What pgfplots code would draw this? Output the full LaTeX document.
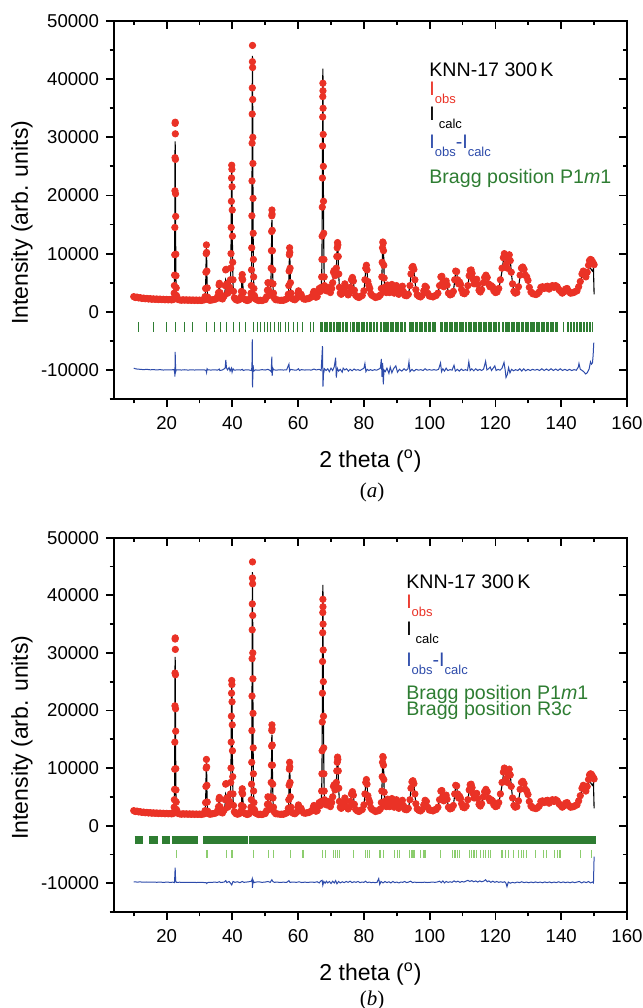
\documentclass[border=0pt]{standalone}
\usepackage{pgfplots}
\pgfplotsset{compat=1.18}
\usepackage{pgfplotstable}
\usepackage{fontspec}
\setmainfont{Liberation Sans}
\newfontfamily\seriffont{Liberation Serif}
\definecolor{obsred}{RGB}{234,50,38}
\definecolor{diffblue}{RGB}{45,75,170}
\definecolor{bgreen}{RGB}{46,125,50}
\definecolor{lgreen}{RGB}{140,205,110}
\newcommand{\sub}[1]{\raisebox{-4pt}{\fontsize{6.5pt}{7pt}\selectfont #1}}
\tikzset{leg/.style={anchor=base west, inner sep=0pt, font=\fontsize{9.8pt}{11pt}\selectfont}}

\pgfplotstableread{
x obs calc
10.0 2600 2450
10.5 2450 2400
11.0 2520 2380
11.5 2380 2350
12.0 2420 2320
12.5 2290 2300
13.0 2350 2280
13.5 2240 2260
14.0 2300 2240
14.5 2190 2220
15.0 2260 2200
15.5 2150 2190
16.0 2220 2180
16.5 2130 2170
17.0 2200 2160
17.5 2100 2150
18.0 2180 2140
18.5 2090 2130
19.0 2150 2120
19.5 2060 2110
20.0 2130 2100
20.5 2050 2090
21.0 2110 2080
21.5 2040 2070
22.0 2100 2080
22.20 2300 2200
22.30 3200 3000
22.36 4500 4400
22.42 6300 6800
22.46 9800 10500
22.50 14500 16000
22.53 20800 22500
22.56 26500 27500
22.59 32400 29300
22.62 32600 28500
22.65 30600 26000
22.68 26200 22000
22.72 20300 16500
22.76 16400 11500
22.80 9900 7500
22.85 6200 4800
22.92 4100 3300
23.00 2800 2600
23.10 2300 2250
23.5 2100 2080
24.0 2040 2060
24.5 1980 2050
25.0 2060 2040
25.5 1990 2030
26.0 2050 2020
26.5 1970 2010
27.0 2040 2000
27.5 1960 1990
28.0 2030 1980
28.5 1950 1980
29.0 2020 1970
29.5 1950 1970
30.0 2010 1960
30.5 1940 1960
31.0 2000 1960
31.5 2050 2000
31.7 2600 2500
31.85 4000 3900
31.95 6800 6500
32.03 10000 9800
32.10 11500 11000
32.17 10200 9700
32.25 7000 6400
32.35 4100 3800
32.5 2500 2400
32.8 2050 2050
33.2 1980 2000
33.6 2040 2000
34.0 2050 2050
34.5 2120 2100
35.0 2200 2200
35.5 2600 2600
35.8 3300 3300
35.95 4600 4800
36.05 4900 4800
36.2 3300 3400
36.5 2300 2300
37.0 2200 2200
37.5 2700 2600
37.8 4500 3800
37.95 7200 5500
38.1 7300 5300
38.3 4800 3600
38.6 3200 2900
38.9 3600 3300
39.2 4200 4000
39.4 5500 5300
39.5 7500 7300
39.58 10000 10500
39.64 14500 15000
39.70 19000 20000
39.75 23000 23500
39.80 25200 25000
39.85 24500 24000
39.90 21500 20500
39.96 17500 16000
40.02 13000 11500
40.10 8500 7500
40.20 5500 4800
40.35 3500 3200
40.6 2400 2400
41.0 2100 2100
41.5 1980 2000
42.0 2050 2050
42.5 2500 2500
42.75 3500 3400
42.9 5800 6000
43.0 6400 6300
43.12 5500 5600
43.3 3300 3200
43.6 2200 2200
44.0 2040 2000
44.5 1930 1950
45.0 2020 2000
45.4 2300 2300
45.65 3200 3000
45.75 4500 4200
45.82 7200 6800
45.88 11000 10500
45.93 16500 15500
45.97 22500 22000
46.00 29000 28500
46.03 34000 34500
46.06 38500 40000
46.09 43000 44000
46.12 45800 43500
46.15 42000 40000
46.18 36500 35000
46.21 30000 29000
46.24 25500 23500
46.28 19500 17500
46.33 13500 12500
46.39 9000 8000
46.46 6000 5500
46.55 4000 3800
46.7 2800 2700
47.0 2200 2200
47.5 2040 2000
48.0 1920 1950
48.5 1990 1950
49.0 1920 1950
49.5 2030 2000
50.0 2100 2100
50.4 2600 2600
50.65 3700 3800
50.8 5000 5000
50.95 3800 3700
51.2 2800 2700
51.5 3300 3200
51.7 5000 4800
51.8 7500 7200
51.88 10500 10000
51.94 13800 13500
51.99 16500 15500
52.03 17500 15800
52.07 16800 15000
52.12 14000 12500
52.18 10500 9500
52.26 7200 6500
52.36 4800 4300
52.5 3200 3000
52.8 2300 2300
53.2 2060 2100
53.8 2030 2000
54.5 1960 2000
55.0 1990 1950
55.5 1960 2000
56.0 2090 2050
56.5 2200 2200
57.0 3000 2900
57.15 4500 4300
57.25 7000 6800
57.33 9800 9500
57.40 11000 10700
57.47 10200 10000
57.55 7500 7300
57.65 5000 4800
57.8 3200 3100
58.1 2300 2300
58.5 2140 2100
59.0 2060 2100
59.5 2300 2300
59.9 3200 3100
60.1 3600 3600
60.35 3000 3000
60.6 2600 2600
60.9 3000 2900
61.2 2500 2500
61.7 2200 2200
62.2 2150 2150
62.7 2240 2200
63.2 2260 2300
63.7 2440 2400
64.2 2600 2600
64.6 3200 3100
64.8 3500 3400
65.0 3000 3000
65.4 2500 2500
65.8 2600 2600
66.2 3500 3400
66.4 4000 3900
66.6 3600 3500
66.8 3500 3500
67.0 4200 4000
67.15 6000 5800
67.23 9000 8800
67.29 13000 13500
67.34 18000 19000
67.38 23000 25000
67.42 28500 31000
67.46 33500 36500
67.49 37000 40500
67.52 39300 41800
67.55 38000 40000
67.58 35000 36000
67.62 30500 30000
67.66 25000 24000
67.71 19000 18000
67.77 13500 12500
67.84 9000 8500
67.92 6000 5800
68.02 4500 4300
68.3 3800 3700
68.6 3600 3600
68.9 3900 3800
69.2 4200 4100
69.5 3500 3500
69.8 3300 3300
70.2 4000 3900
70.5 5000 4800
70.75 6800 6500
70.95 7100 7000
71.2 6200 6000
71.45 6500 6300
71.6 7500 7300
71.75 9500 9300
71.88 11000 11000
71.98 11900 11500
72.08 11500 11200
72.2 9500 9000
72.35 6500 6200
72.55 4200 4100
72.8 3200 3200
73.1 3000 3000
73.5 3300 3300
73.9 4000 3900
74.2 4800 4700
74.5 4300 4300
74.8 3200 3200
75.2 2900 2900
75.6 3200 3200
75.9 4200 4100
76.2 5500 5400
76.5 5900 5800
76.8 5300 5200
77.1 3700 3600
77.5 2800 2800
78.0 2550 2500
78.5 2450 2500
79.0 2650 2600
79.5 2800 2800
80.0 3600 3500
80.3 5500 5300
80.55 7500 7300
80.75 8000 7800
80.95 7200 7000
81.2 5200 5000
81.5 4500 4300
81.8 4000 3900
82.1 3100 3100
82.5 2800 2800
83.0 2650 2600
83.5 2450 2500
84.0 2550 2500
84.5 2600 2600
85.0 2900 2900
85.3 4000 3900
85.45 6000 5800
85.55 8500 8000
85.65 11000 10500
85.75 12000 11300
85.85 11800 11500
85.95 10500 11000
86.05 8000 8500
86.15 5800 6000
86.3 4200 4300
86.5 3500 3500
86.8 3300 3300
87.2 4600 4500
87.5 4200 4100
87.8 3300 3300
88.2 4300 4200
88.5 4700 4600
88.8 4000 4000
89.2 3200 3200
89.6 4300 4200
89.9 4500 4400
90.2 3700 3700
90.6 3000 3000
91.0 3300 3300
91.4 4100 4000
91.7 4400 4300
92.0 3500 3500
92.5 2800 2800
93.0 2750 2700
93.5 3000 3000
94.0 4500 4400
94.3 6500 6300
94.6 7600 7400
94.9 7800 7600
95.2 7300 7200
95.5 5500 5400
95.8 3800 3800
96.2 2900 2900
96.7 2650 2600
97.2 2550 2600
97.7 2800 2800
98.2 3600 3500
98.6 4400 4300
99.0 4200 4200
99.4 3200 3200
99.9 2700 2700
100.5 2650 2600
101.0 2550 2600
101.5 2750 2700
102.0 2800 2800
102.5 3200 3200
103.0 4500 4400
103.4 6000 5800
103.7 6100 6000
104.0 5000 5000
104.3 4300 4300
104.7 5000 4900
105.0 5300 5200
105.3 4600 4600
105.7 3200 3200
106.2 2900 2900
106.7 3000 3000
107.2 3500 3500
107.6 5500 5300
107.9 7000 6800
108.2 6900 6800
108.5 5500 5400
108.8 4800 4700
109.1 5100 5000
109.4 4700 4600
109.7 3800 3800
110.1 3200 3200
110.6 3100 3100
111.1 3400 3400
111.6 4500 4400
112.0 6200 6000
112.3 7100 6900
112.6 7200 7000
112.9 6600 6500
113.2 5600 5500
113.5 4800 4700
113.9 5300 5200
114.3 5600 5500
114.6 4700 4700
115.0 3700 3700
115.4 3400 3400
115.8 3800 3800
116.3 5000 4900
116.7 5900 5800
117.1 6300 6100
117.5 5900 5900
117.9 4800 4800
118.3 4300 4300
118.7 4500 4500
119.1 4300 4300
119.5 3600 3600
120.0 3300 3300
120.5 3400 3400
121.0 4000 4000
121.5 5500 5300
122.0 7500 7000
122.4 9300 8800
122.7 10000 9500
123.0 9600 10000
123.3 8200 8500
123.6 7500 7800
123.9 9200 9300
124.2 9800 10000
124.5 8800 9000
124.8 6800 6900
125.2 4800 4800
125.6 3500 3500
126.0 3200 3200
126.5 3300 3300
127.0 4300 4200
127.5 6300 6100
127.9 7500 7300
128.3 7700 7500
128.7 7300 7100
129.1 6300 6200
129.5 6000 5800
129.9 5400 5300
130.3 4200 4200
130.8 3400 3400
131.3 3100 3100
131.8 3050 3000
132.3 2950 3000
132.8 3100 3100
133.3 3400 3400
133.8 4200 4100
134.3 4300 4200
134.8 4000 4000
135.3 4300 4200
135.8 4400 4300
136.3 3900 3900
136.8 4200 4100
137.3 4500 4400
137.8 4200 4200
138.3 4500 4400
138.8 4300 4200
139.3 3800 3800
139.8 3500 3500
140.3 3200 3200
140.8 3400 3400
141.3 3900 3800
141.8 4000 3900
142.3 3500 3500
142.8 3200 3200
143.3 3250 3200
143.8 3300 3300
144.3 3500 3500
144.8 3600 3600
145.3 4300 4200
145.8 5200 5000
146.3 6500 6300
146.7 7000 6700
147.1 6300 6100
147.5 6000 5800
147.9 6800 6500
148.3 8000 7300
148.6 8800 7800
148.9 9000 7500
149.2 8900 7200
149.5 8600 7000
149.8 8300 7400
150.0 8100 3000
}\prof

\pgfplotstableread{
x y
10.0 -9700
10.5 -9800
11.0 -9850
12.0 -9900
13.0 -9950
14.0 -9900
15.0 -9980
16.0 -9950
17.0 -10000
18.0 -9950
19.0 -10020
20.0 -9980
21.0 -10010
22.2 -9950
22.45 -10400
22.52 -11150
22.6 -6900
22.68 -8500
22.76 -10300
22.9 -10000
23.5 -9980
24.5 -10020
25.5 -9970
26.5 -10030
27.5 -9980
28.5 -10020
29.5 -9980
30.5 -10010
31.5 -9990
32.0 -10100
32.15 -10450
32.3 -9800
32.6 -10000
33.5 -10020
34.5 -9980
35.5 -10030
36.0 -9850
36.2 -10100
37.0 -10000
37.8 -9700
38.0 -8300
38.2 -9600
38.5 -10000
39.0 -9600
39.3 -10200
39.7 -9700
39.9 -10400
40.2 -9800
40.6 -10050
41.5 -9980
42.5 -10020
43.0 -9900
43.3 -10100
44.0 -9980
45.0 -10000
45.8 -10100
45.95 -9400
46.05 -4750
46.12 -13000
46.2 -11500
46.3 -9200
46.5 -10200
47.0 -10000
48.0 -10050
49.0 -9950
50.0 -10020
50.8 -9900
51.5 -10100
51.8 -10300
52.0 -7700
52.1 -11000
52.3 -9700
52.6 -10000
53.5 -10030
54.5 -9970
55.5 -10020
56.5 -9980
57.2 -9000
57.4 -10200
57.7 -9900
58.5 -10000
59.5 -10050
60.1 -9800
60.4 -10100
61.0 -9950
62.0 -10020
63.0 -9980
64.0 -10030
64.8 -9850
65.5 -10000
66.4 -9900
67.0 -10100
67.4 -5900
67.55 -12870
67.7 -10800
68.0 -9800
68.5 -10100
69.0 -9800
69.5 -10300
70.0 -9700
70.5 -10100
71.0 -9400
71.4 -7900
71.6 -11300
71.9 -9700
72.3 -10200
72.8 -9900
73.4 -10400
73.7 -9700
74.2 -10000
74.7 -9800
75.3 -10200
75.8 -9900
76.4 -10150
77.0 -9850
77.6 -10050
78.2 -9950
78.8 -10100
79.4 -9900
80.0 -9700
80.3 -8900
80.6 -10300
81.0 -9900
81.5 -10100
82.0 -9950
82.6 -10100
83.2 -9950
83.8 -10050
84.4 -9900
85.0 -9700
85.3 -8100
85.5 -11200
85.7 -8800
85.9 -12500
86.1 -10000
86.5 -10300
87.0 -9700
87.6 -10600
88.0 -9500
88.5 -10500
89.0 -9800
89.7 -9300
90.2 -10400
90.8 -9900
91.5 -10200
92.2 -9800
92.8 -10100
93.4 -9800
93.7 -8600
94.0 -10300
94.6 -9900
95.2 -10200
95.9 -9900
96.6 -10050
97.3 -9950
98.0 -10100
98.6 -9800
99.2 -10050
99.9 -9950
100.6 -10050
101.3 -9950
102.0 -10050
102.7 -9900
103.3 -8800
103.6 -10300
104.0 -9800
104.5 -10200
105.0 -9700
105.5 -10100
106.2 -9950
106.8 -10050
107.4 -9200
107.8 -10200
108.4 -9900
109.0 -10200
109.6 -9850
110.2 -10100
110.9 -9950
111.5 -10100
111.9 -8600
112.3 -10100
112.8 -9800
113.4 -10150
114.0 -9800
114.6 -10100
115.2 -9900
115.8 -10100
116.4 -9850
117.0 -8500
117.4 -10000
117.9 -9800
118.4 -9500
118.8 -10100
119.3 -9700
119.8 -9300
120.2 -10100
120.8 -9900
121.4 -10050
122.0 -9700
122.6 -8700
123.0 -10200
123.2 -11300
123.6 -10800
124.0 -9600
124.4 -10500
124.9 -9900
125.5 -10150
126.1 -9950
126.8 -10100
127.4 -9800
128.0 -10200
128.6 -9800
129.2 -10150
129.9 -9900
130.6 -10100
131.3 -9900
132.0 -10050
132.7 -9900
133.4 -10100
134.1 -9800
134.8 -10100
135.5 -9850
136.2 -10100
136.9 -9800
137.6 -10100
138.3 -9850
139.0 -10100
139.7 -9800
140.4 -10100
141.1 -9900
141.8 -10100
142.5 -9900
143.2 -10100
143.9 -9950
144.6 -10050
145.2 -9500
145.4 -8900
145.8 -9900
146.4 -10100
147.0 -10400
147.4 -10700
147.9 -10500
148.5 -9800
148.9 -8600
149.2 -9000
149.5 -8800
149.7 -7500
149.9 -5300
}\diffA

\pgfplotstableread{
x y
10.0 -9750
11.0 -9800
12.0 -9780
13.0 -9820
14.0 -9790
15.0 -9830
16.0 -9800
17.0 -9840
18.0 -9810
19.0 -9850
20.0 -9820
21.0 -9840
22.0 -9830
22.4 -9900
22.6 -7300
22.75 -9600
23.0 -9850
24.0 -9830
25.0 -9860
26.0 -9840
27.0 -9870
28.0 -9850
29.0 -9880
30.0 -9860
31.0 -9870
32.0 -9900
32.2 -10050
32.5 -9880
33.5 -9860
34.5 -9820
35.5 -9850
36.0 -9750
36.5 -9880
37.5 -9800
38.0 -9550
38.3 -9900
39.0 -9700
39.5 -10050
39.8 -10300
40.2 -9700
40.8 -9850
41.5 -9750
42.3 -9900
43.0 -9700
43.5 -9850
44.3 -9800
45.0 -9750
45.8 -9650
46.0 -9300
46.1 -10800
46.3 -9500
46.6 -9900
47.2 -9800
48.0 -9750
49.0 -9850
50.0 -9800
50.8 -9700
51.5 -9850
52.0 -9400
52.3 -9700
52.8 -9850
53.5 -9800
54.5 -9870
55.5 -9820
56.5 -9860
57.2 -9550
57.5 -9850
58.5 -9800
59.5 -9850
60.3 -9750
61.0 -9880
62.0 -9820
63.0 -9860
64.0 -9800
65.0 -9850
65.8 -9750
66.4 -9950
66.9 -9600
67.3 -9500
67.5 -10350
67.8 -9700
68.2 -10000
68.6 -9650
69.0 -9950
69.5 -9700
70.0 -10050
70.5 -9650
71.0 -9950
71.4 -9550
71.8 -10100
72.3 -9700
72.8 -9950
73.4 -9750
74.0 -9900
74.6 -9700
75.2 -9850
75.8 -9650
76.4 -9900
77.0 -9750
77.6 -9850
78.2 -9700
78.8 -9900
79.4 -9800
80.0 -9850
80.5 -9650
81.0 -9900
81.6 -9800
82.2 -9900
82.8 -9850
83.4 -9900
84.0 -9850
84.5 -9200
84.8 -10200
85.2 -9700
85.8 -9950
86.4 -9700
87.0 -9900
87.6 -9750
88.2 -9950
88.8 -9700
89.4 -9900
90.0 -9800
90.6 -9950
91.2 -9800
91.8 -9850
92.4 -9700
93.0 -9900
93.6 -9800
94.2 -9650
94.8 -9900
95.4 -9800
96.0 -9880
96.8 -9850
97.6 -9880
98.4 -9820
99.2 -9880
100.0 -9850
100.8 -9800
101.6 -9850
102.4 -9780
103.0 -9650
103.5 -9900
104.0 -9600
104.5 -9950
105.0 -9700
105.6 -9850
106.2 -9750
106.8 -9850
107.4 -9600
108.0 -9800
108.6 -9650
109.2 -9850
109.8 -9700
110.4 -9800
111.0 -9650
111.6 -9500
112.2 -9700
112.8 -9550
113.4 -9750
114.0 -9600
114.6 -9800
115.2 -9600
115.8 -9750
116.4 -9650
117.0 -9400
117.5 -9750
118.0 -9600
118.6 -9850
119.2 -9650
119.8 -9850
120.4 -9700
121.0 -9850
121.6 -9750
122.2 -9850
122.8 -9750
123.2 -10000
123.5 -10600
123.9 -9800
124.5 -10000
125.2 -9850
125.9 -9950
126.6 -9800
127.3 -9900
128.0 -9750
128.7 -9900
129.4 -9800
130.1 -9920
130.8 -9800
131.5 -9900
132.2 -9780
132.9 -9900
133.6 -9800
134.3 -9920
135.0 -9780
135.7 -9900
136.4 -9780
137.1 -9920
137.8 -9800
138.5 -9900
139.2 -9750
139.9 -9900
140.6 -9780
141.3 -9900
142.0 -9800
142.7 -9920
143.4 -9780
144.1 -9900
144.8 -9800
145.5 -9700
146.2 -9950
146.9 -9750
147.6 -9900
148.3 -9700
148.9 -9950
149.5 -9800
149.8 -9950
150.0 -5400
}\diffB

\pgfplotsset{
  panelbase/.style={
    scale only axis, width=256.5pt,
    xmin=4, xmax=160, ymin=-15000, ymax=50000,
    xtick={20,40,...,160}, minor xtick={10,30,...,150},
    ytick={-10000,0,...,50000}, minor ytick={-15000,-5000,...,45000},
    axis line style={line width=1pt},
    major tick length=4pt, minor tick length=2.2pt,
    every tick/.append style={line width=0.9pt, black},
    tick label style={font=\fontsize{9.3pt}{10pt}\selectfont},
    scaled ticks=false,
    /pgf/number format/set thousands separator={},
    /pgf/number format/assume math mode=true,
  },
  mirror/.style={panelbase, tick align=inside, xtick pos=top, ytick pos=right,
    xticklabels={}, yticklabels={}},
  mainpanel/.style={panelbase, tick align=outside, xtick pos=bottom, ytick pos=left,
    xticklabel style={yshift=-1pt},
    xlabel={2 theta (\textsuperscript{o})},
    ylabel={Intensity (arb. units)},
    xlabel style={at={(axis description cs:0.5,0)}, anchor=center, yshift=-31pt,
      font=\fontsize{11.5pt}{13pt}\selectfont},
    ylabel style={at={(axis description cs:-0.1793,0.466)}, anchor=center,
      font=\fontsize{11.5pt}{13pt}\selectfont},
  },
  obsplot/.style={obsred, only marks, mark=*, mark size=1.6pt},
}

\begin{document}
\begin{tikzpicture}
% ---------- panel (a) ----------
\begin{axis}[mirror, at={(57pt,304.5pt)}, anchor=south west, height=189pt]
\end{axis}
\begin{axis}[mainpanel, at={(57pt,304.5pt)}, anchor=south west, height=189pt]
\addplot[obsplot] table[x=x, y=obs] {\prof};
\addplot[black, line width=0.55pt] table[x=x, y=calc] {\prof};
\addplot[diffblue, line width=0.5pt] table[x=x, y=y] {\diffA};
\addplot[only marks, mark=|, mark size=2.33pt, mark options={bgreen, line width=0.45pt}] coordinates {
(11.3,-2600) (16.0,-2600) (19.8,-2600) (22.6,-2600) (25.4,-2600) (27.8,-2600)
(32.2,-2600) (34.4,-2600) (36.5,-2600) (38.3,-2600) (40.3,-2600) (42.2,-2600) (44.1,-2600)
(46.4,-2600) (47.5,-2600) (48.6,-2600) (49.6,-2600) (50.6,-2600) (51.6,-2600) (52.9,-2600) (53.9,-2600) (54.7,-2600)
(56.2,-2600) (57.2,-2600) (58.5,-2600) (59.8,-2600) (61.3,-2600) (63.6,-2600) (64.6,-2600)
(66.7,-2600) (67.1,-2600) (67.5,-2600) (67.9,-2600) (68.2,-2600) (68.6,-2600) (69.0,-2600) (69.5,-2600) (69.9,-2600) (70.2,-2600) (70.6,-2600) (71.0,-2600) (71.5,-2600) (71.9,-2600) (72.3,-2600) (72.6,-2600) (73.0,-2600) (73.5,-2600) (73.9,-2600) (74.3,-2600) (74.6,-2600) (74.9,-2600)
(76.0,-2600) (76.4,-2600) (76.7,-2600) (77.1,-2600) (77.6,-2600) (78.0,-2600) (78.4,-2600) (78.7,-2600) (79.1,-2600) (79.6,-2600) (80.0,-2600) (80.3,-2600) (80.7,-2600) (81.1,-2600) (81.6,-2600) (82.0,-2600) (82.4,-2600) (82.8,-2600) (83.2,-2600) (83.7,-2600) (84.1,-2600)
(85.1,-2600) (85.4,-2600) (85.8,-2600) (86.1,-2600) (86.5,-2600) (86.9,-2600) (87.2,-2600) (87.6,-2600) (88.0,-2600) (88.3,-2600) (88.7,-2600) (89.1,-2600) (89.5,-2600) (89.9,-2600) (90.2,-2600) (90.6,-2600) (91.0,-2600) (91.4,-2600) (91.8,-2600) (92.2,-2600) (92.7,-2600)
(93.7,-2600) (94.1,-2600) (94.5,-2600) (94.9,-2600) (95.2,-2600) (95.6,-2600) (96.0,-2600) (96.4,-2600) (96.8,-2600) (97.1,-2600) (97.5,-2600) (97.9,-2600) (98.3,-2600) (98.7,-2600) (99.1,-2600) (99.5,-2600) (99.9,-2600) (100.3,-2600) (100.7,-2600) (101.1,-2600) (101.4,-2600) (101.8,-2600)
(103.3,-2600) (103.6,-2600) (104.0,-2600) (104.4,-2600) (104.8,-2600) (105.1,-2600) (105.5,-2600) (105.9,-2600) (106.3,-2600) (106.6,-2600) (107.0,-2600) (107.4,-2600) (107.8,-2600) (108.2,-2600) (108.5,-2600) (108.9,-2600) (109.3,-2600) (109.7,-2600) (110.0,-2600) (110.4,-2600)
(110.9,-2600) (111.3,-2600) (111.7,-2600) (112.0,-2600) (112.4,-2600) (112.8,-2600) (113.2,-2600) (113.6,-2600) (113.9,-2600) (114.3,-2600) (114.7,-2600) (115.1,-2600) (115.5,-2600) (115.8,-2600) (116.2,-2600) (116.6,-2600) (117.0,-2600) (117.4,-2600) (117.8,-2600) (118.1,-2600) (118.5,-2600) (118.9,-2600) (119.3,-2600) (119.7,-2600) (120.0,-2600) (120.4,-2600) (120.8,-2600) (121.1,-2600)
(122.1,-2600) (122.5,-2600) (122.9,-2600) (123.3,-2600) (123.6,-2600) (124.0,-2600) (124.4,-2600) (124.8,-2600) (125.2,-2600) (125.5,-2600) (125.9,-2600) (126.3,-2600) (126.7,-2600) (127.1,-2600) (127.4,-2600) (127.8,-2600) (128.2,-2600) (128.6,-2600) (129.0,-2600) (129.3,-2600) (129.7,-2600) (130.1,-2600) (130.5,-2600) (130.9,-2600) (131.2,-2600) (131.6,-2600) (132.0,-2600) (132.4,-2600) (132.8,-2600) (133.1,-2600) (133.5,-2600) (133.9,-2600) (134.3,-2600) (134.7,-2600) (135.0,-2600) (135.4,-2600) (135.8,-2600) (136.2,-2600) (136.6,-2600) (136.9,-2600) (137.3,-2600) (137.7,-2600) (138.1,-2600) (138.5,-2600) (138.8,-2600)
(140.8,-2600)
(141.8,-2600) (142.3,-2600) (142.7,-2600) (143.2,-2600) (143.6,-2600) (144.1,-2600) (144.5,-2600) (145.0,-2600) (145.4,-2600) (145.9,-2600) (146.3,-2600) (146.8,-2600) (147.2,-2600) (147.7,-2600) (148.1,-2600) (148.6,-2600) (149.0,-2600) (149.4,-2600)
};
\node[leg] at (rel axis cs:0.614,0.8545) {KNN-17 300\,K};
\node[leg, text=obsred] at (rel axis cs:0.614,0.8042) {I\sub{obs}};
\node[leg] at (rel axis cs:0.614,0.7381) {I\hspace{2pt}\sub{calc}};
\node[leg, text=diffblue] at (rel axis cs:0.614,0.6614) {I\sub{obs}-I\sub{calc}};
\node[leg, text=bgreen] at (rel axis cs:0.614,0.5688) {Bragg position P1\textit{m}1};
\end{axis}
\node[font=\seriffont\fontsize{10.5pt}{12pt}\selectfont] at (186pt,258pt) {(\textit{a})};

% ---------- panel (b) ----------
\begin{axis}[mirror, at={(57pt,48pt)}, anchor=south west, height=187.15pt]
\end{axis}
\begin{axis}[mainpanel, at={(57pt,48pt)}, anchor=south west, height=187.15pt]
\addplot[obsplot] table[x=x, y=obs] {\prof};
\addplot[black, line width=0.55pt] table[x=x, y=calc] {\prof};
\addplot[diffblue, line width=0.5pt] table[x=x, y=y] {\diffB};
\addplot[bgreen, line width=4.15pt, unbounded coords=jump] coordinates {
(10.3,-2460) (12.8,-2460) (13.5,nan) (14.7,-2460) (17.5,-2460) (18.0,nan)
(18.5,-2460) (21.1,-2460) (21.3,nan) (21.5,-2460) (29.4,-2460) (30.0,nan)
(31.1,-2460) (44.6,-2460) (44.8,nan) (45.0,-2460) (150.6,-2460)};
\addplot[only marks, mark=|, mark size=2.07pt, mark options={lgreen, line width=0.6pt}] coordinates {
(22.9,-4940) (32.3,-4940) (38.3,-4940) (39.9,-4940) (46.5,-4940) (50.9,-4940) (52.4,-4940)
(57.6,-4940) (61.5,-4940) (67.4,-4940) (68.2,-4940) (70.8,-4940) (71.4,-4940) (72.0,-4940) (72.6,-4940)
(76.8,-4940) (80.5,-4940) (81.2,-4940) (81.8,-4940) (84.9,-4940) (85.9,-4940) (89.2,-4940) (90.2,-4940)
(90.9,-4940) (93.8,-4940) (94.6,-4940) (95.2,-4940) (97.2,-4940) (98.0,-4940) (98.6,-4940) (103.4,-4940)
(106.9,-4940) (107.7,-4940) (108.4,-4940) (109.0,-4940) (112.1,-4940) (112.6,-4940) (113.5,-4940) (114.2,-4940)
(115.5,-4940) (116.3,-4940) (117.0,-4940) (117.8,-4940) (118.6,-4940) (122.0,-4940) (123.1,-4940) (123.9,-4940)
(125.4,-4940) (127.0,-4940) (127.8,-4940) (128.5,-4940) (129.4,-4940) (132.1,-4940) (134.6,-4940) (135.4,-4940)
(138.0,-4940) (138.8,-4940) (139.6,-4940) (145.8,-4940) (149.3,-4940)};
\node[leg] at (rel axis cs:0.569,0.863) {KNN-17 300\,K};
\node[leg, text=obsred] at (rel axis cs:0.569,0.812) {I\sub{obs}};
\node[leg] at (rel axis cs:0.569,0.740) {I\hspace{2pt}\sub{calc}};
\node[leg, text=diffblue] at (rel axis cs:0.569,0.655) {I\sub{obs}-I\sub{calc}};
\node[leg, text=bgreen] at (rel axis cs:0.569,0.569) {Bragg position P1\textit{m}1};
\node[leg, text=bgreen] at (rel axis cs:0.569,0.524) {Bragg position R3\textit{c}};
\end{axis}
\node[font=\seriffont\fontsize{10.5pt}{12pt}\selectfont] at (186pt,4pt) {(\textit{b})};
\pgfresetboundingbox
\path[use as bounding box] (0,0) rectangle (321.5pt,504pt);
\end{tikzpicture}
\end{document}
